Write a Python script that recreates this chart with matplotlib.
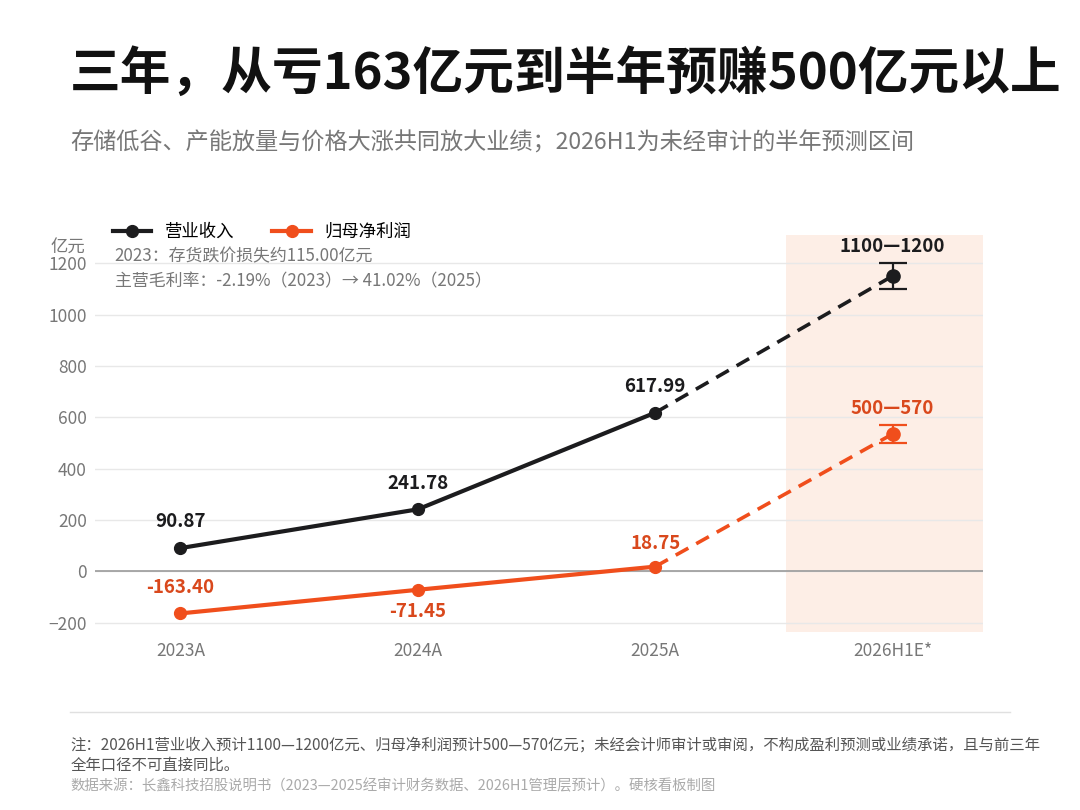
import numpy as np
import matplotlib.pyplot as plt

plt.rcParams['font.family'] = ['Noto Sans CJK SC', 'DejaVu Sans']

# 数据
years = ['2023A', '2024A', '2025A', '2026H1E*']
revenue = [90.87, 241.78, 617.99]
profit = [-163.40, -71.45, 18.75]
rev_est = 1150
rev_low, rev_high = 1100, 1200
prof_est = 535
prof_low, prof_high = 500, 570

black = '#1c1c1e'
orange = '#f04e1c'
orange_txt = '#d9481c'

fig = plt.figure(figsize=(10.8, 8.1), dpi=100)
ax = fig.add_axes([0.088, 0.22, 0.822, 0.49])

x = np.arange(len(years))

# 预测区间底色
ax.axvspan(2.55, 3.38, color='#fdeee6', zorder=0, lw=0)

ax.axhline(0, color='#9a9a9a', lw=1.2, zorder=1)

# 实线
ax.plot(x[:3], revenue, color=black, lw=3, marker='o', ms=8.5, zorder=3, label='营业收入')
ax.plot(x[:3], profit, color=orange, lw=3, marker='o', ms=8.5, zorder=3, label='归母净利润')
# 虚线
ax.plot([x[2], x[3]], [revenue[2], rev_est], color=black, lw=2.6, ls=(0, (4, 2.5)), zorder=3)
ax.plot([x[2], x[3]], [profit[2], prof_est], color=orange, lw=2.6, ls=(0, (4, 2.5)), zorder=3)

# 误差棒
ax.errorbar([x[3]], [rev_est], yerr=[[rev_est - rev_low], [rev_high - rev_est]],
            fmt='o', color=black, ms=9.5, capsize=10, elinewidth=1.6, capthick=1.6, zorder=4)
ax.errorbar([x[3]], [prof_est], yerr=[[prof_est - prof_low], [prof_high - prof_est]],
            fmt='o', color=orange, ecolor=orange, ms=9.5, capsize=10, elinewidth=1.6, capthick=1.6, zorder=4)

# 数据标签
fs_lab = 13.5
for xi, v in zip(x[:3], revenue):
    ax.annotate(f'{v:.2f}', (xi, v), xytext=(0, 12), textcoords='offset points',
                ha='center', va='bottom', fontsize=fs_lab, fontweight='bold', color=black)
ax.annotate(f'{profit[0]:.2f}', (x[0], profit[0]), xytext=(0, 12), textcoords='offset points',
            ha='center', va='bottom', fontsize=fs_lab, fontweight='bold', color=orange_txt)
ax.annotate(f'{profit[1]:.2f}', (x[1], profit[1]), xytext=(0, -9), textcoords='offset points',
            ha='center', va='top', fontsize=fs_lab, fontweight='bold', color=orange_txt)
ax.annotate(f'{profit[2]:.2f}', (x[2], profit[2]), xytext=(0, 10), textcoords='offset points',
            ha='center', va='bottom', fontsize=fs_lab, fontweight='bold', color=orange_txt)
ax.annotate(f'{rev_low}—{rev_high}', (x[3], rev_high), xytext=(0, 5), textcoords='offset points',
            ha='center', va='bottom', fontsize=fs_lab, fontweight='bold', color=black)
ax.annotate(f'{prof_low}—{prof_high}', (x[3], prof_high), xytext=(0, 5), textcoords='offset points',
            ha='center', va='bottom', fontsize=fs_lab, fontweight='bold', color=orange_txt)

ax.set_xlim(-0.36, 3.38)
ax.set_ylim(-235, 1310)
ax.set_xticks(x)
ax.set_xticklabels(years)
ax.set_yticks([-200, 0, 200, 400, 600, 800, 1000, 1200])
ax.tick_params(axis='both', length=0, labelsize=12.5, labelcolor='#777777', pad=6)
ax.tick_params(axis='x', pad=7)
ax.grid(axis='y', color='#e8e8e8', lw=1, zorder=0)
ax.set_axisbelow(True)
for s in ax.spines.values():
    s.set_visible(False)

ax.legend(loc='lower left', bbox_to_anchor=(0.012, 0.968), ncol=2, frameon=False,
          fontsize=12.5, handlelength=2.2, columnspacing=2.2, borderaxespad=0)

# 单位（放在1200刻度上方，避免重叠）
fig.text(0.047, 0.688, '亿元', fontsize=12.5, color='#777777')
ax.text(0.022, 0.945, '2023：存货跌价损失约115.00亿元', transform=ax.transAxes,
        fontsize=12.2, color='#777777', va='center')
ax.text(0.022, 0.882, '主营毛利率：-2.19%（2023）→ 41.02%（2025）', transform=ax.transAxes,
        fontsize=12.2, color='#777777', va='center')

# 标题
fig.text(0.065, 0.908, '三年，从亏163亿元到半年预赚500亿元以上', fontsize=36.5,
         fontweight='bold', color='#111111', va='center')
fig.text(0.065, 0.823, '存储低谷、产能放量与价格大涨共同放大业绩；2026H1为未经审计的半年预测区间',
         fontsize=16.7, color='#777777', va='center')

# 脚注
fig.add_artist(plt.Line2D([0.065, 0.935], [0.121, 0.121], color='#e0e0e0', lw=1))
fig.text(0.065, 0.080, '注：2026H1营业收入预计1100—1200亿元、归母净利润预计500—570亿元；未经会计师审计或审阅，不构成盈利预测或业绩承诺，且与前三年',
         fontsize=11.1, color='#555555', va='center')
fig.text(0.065, 0.055, '全年口径不可直接同比。', fontsize=11.1, color='#555555', va='center')
fig.text(0.065, 0.030, '数据来源：长鑫科技招股说明书（2023—2025经审计财务数据、2026H1管理层预计）。硬核看板制图',
         fontsize=10.4, color='#aaaaaa', va='center')

fig.savefig('out.png', dpi=100, facecolor='white')
